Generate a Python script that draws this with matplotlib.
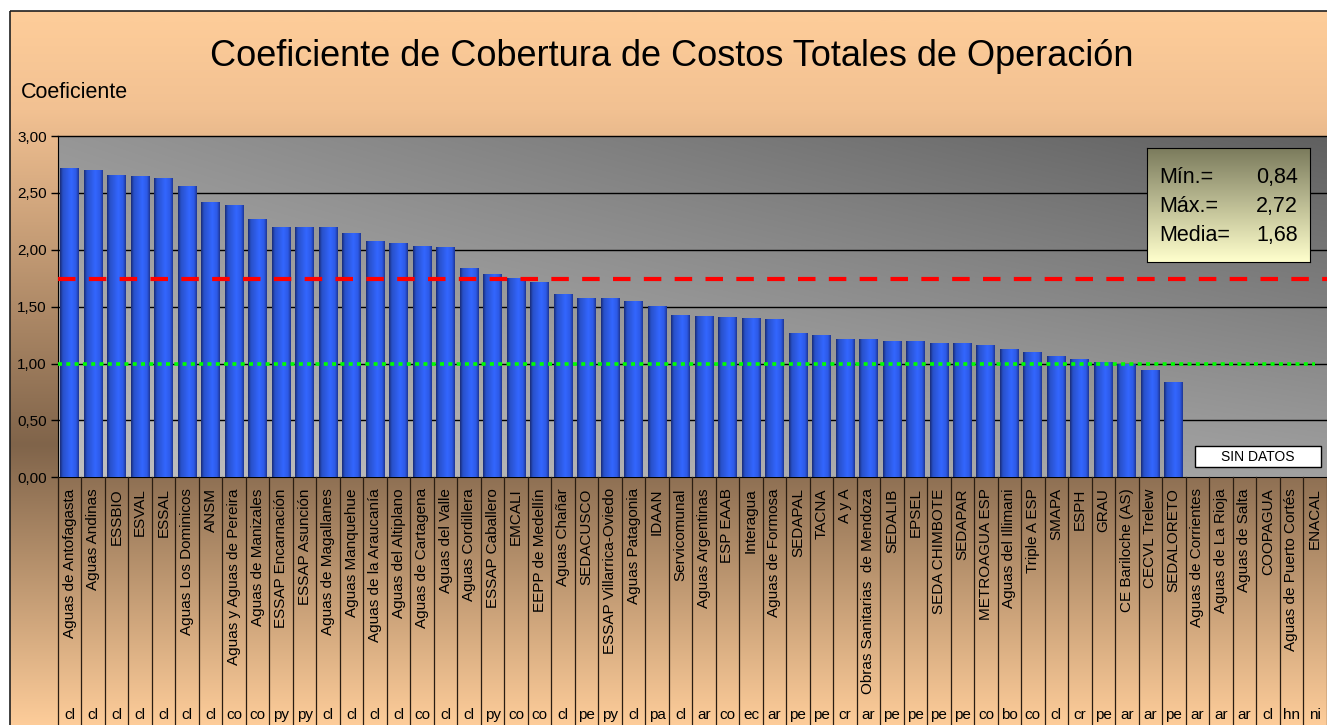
import numpy as np
import matplotlib
matplotlib.use("Agg")
import matplotlib.pyplot as plt
from matplotlib.patches import Rectangle
from matplotlib.transforms import blended_transform_factory

plt.rcParams['font.family'] = ['Liberation Sans', 'DejaVu Sans']

# Data
empresas = [
    "Aguas de Antofagasta", "Aguas Andinas", "ESSBIO", "ESVAL", "ESSAL",
    "Aguas Los Dominicos", "ANSM", "Aguas y Aguas de Pereira", "Aguas de Manizales",
    "ESSAP Encarnación", "ESSAP Asunción", "Aguas de Magallanes", "Aguas Manquehue",
    "Aguas de la Araucanía", "Aguas del Altiplano", "Aguas de Cartagena",
    "Aguas del Valle", "Aguas Cordillera", "ESSAP Caballero", "EMCALI",
    "EEPP de Medellín", "Aguas Chañar", "SEDACUSCO", "ESSAP Villarrica-Oviedo",
    "Aguas Patagonia", "IDAAN", "Servicomunal", "Aguas Argentinas", "ESP EAAB",
    "Interagua", "Aguas de Formosa", "SEDAPAL", "TACNA", "A y A",
    "Obras Sanitarias  de Mendoza", "SEDALIB", "EPSEL", "SEDA CHIMBOTE", "SEDAPAR",
    "METROAGUA ESP", "Aguas del Illimani", "Triple A ESP", "SMAPA", "ESPH", "GRAU",
    "CE Bariloche (AS)", "CECVL Trelew", "SEDALORETO", "Aguas de Corrientes",
    "Aguas de La Rioja", "Aguas de Salta", "COOPAGUA", "Aguas de Puerto Cortés",
    "ENACAL",
]
paises = [
    "cl", "cl", "cl", "cl", "cl", "cl", "cl", "co", "co", "py", "py", "cl", "cl",
    "cl", "cl", "co", "cl", "cl", "py", "co", "co", "cl", "pe", "py", "cl", "pa",
    "cl", "ar", "co", "ec", "ar", "pe", "pe", "cr", "ar", "pe", "pe", "pe", "pe",
    "co", "bo", "co", "cl", "cr", "pe", "ar", "ar", "pe", "ar", "ar", "ar", "cl",
    "hn", "ni",
]
coeficiente = [
    2.72, 2.70, 2.66, 2.65, 2.63, 2.56, 2.42, 2.39, 2.27, 2.20, 2.20, 2.20, 2.15,
    2.08, 2.06, 2.03, 2.02, 1.84, 1.79, 1.75, 1.72, 1.61, 1.58, 1.58, 1.55, 1.51,
    1.43, 1.42, 1.41, 1.40, 1.39, 1.27, 1.25, 1.22, 1.22, 1.20, 1.20, 1.18, 1.18,
    1.16, 1.13, 1.10, 1.07, 1.04, 1.01, 1.00, 0.94, 0.84,
    np.nan, np.nan, np.nan, np.nan, np.nan, np.nan,
]
linea_roja = 1.74
linea_verde = 1.00
y_ticks = [0.0, 0.5, 1.0, 1.5, 2.0, 2.5, 3.0]
y_labels = ["0,00", "0,50", "1,00", "1,50", "2,00", "2,50", "3,00"]
resumen = [("Mín.=", "0,84"), ("Máx.=", "2,72"), ("Media=", "1,68")]

W, H = 1327, 725
fig = plt.figure(figsize=(W / 100, H / 100), dpi=100)
fig.patch.set_facecolor("white")

# figure background (vertical gradient, peach -> brown -> peach)
bg = fig.add_axes([0, 0, 1, 1], zorder=-5)
bg.set_xlim(0, W)
bg.set_ylim(H, 0)
bg.axis("off")
yy = np.arange(H)
stops_y = [11, 100, 440, 725]
stops_c = np.array([[253, 204, 153], [242, 193, 146], [128, 100, 74], [254, 205, 154]]) / 255
grad = np.stack([np.interp(yy, stops_y, stops_c[:, k]) for k in range(3)], axis=-1)
bg.imshow(grad[:, None, :], extent=[10, W + 10, H, 11], aspect="auto", interpolation="bilinear")
bg.add_patch(Rectangle((10, 11), W + 10, H + 10, fill=False, edgecolor="#202020", lw=1.2))

# main axes
ax = fig.add_axes([58 / W, 1 - 477.3 / H, (1326.5 - 58) / W, (477.3 - 136) / H])
n = len(empresas)
x = np.arange(n)
ax.set_xlim(-0.5, n - 0.5)
ax.set_ylim(0, 3)

# plot area gradient (light bottom-left, dark top-right)
u = np.linspace(0, 1, 200)
w = np.linspace(1, 0, 100)[:, None]
g = (192 - 42 * w - 32 * u - 22 * u * w) / 255
ax.imshow(np.dstack([g, g, g]), extent=[-0.5, n - 0.5, 0, 3], aspect="auto",
          interpolation="bilinear", zorder=0)

for t in y_ticks[1:]:
    ax.axhline(t, color="black", lw=1.0, zorder=1, clip_on=False)

# bars with cylinder shading
prof_x = [0, 0.15, 0.6, 0.85, 1.0]
prof_c = np.array([[25, 45, 120], [40, 80, 200], [51, 102, 255], [45, 90, 230], [30, 55, 150]]) / 255
px = np.linspace(0, 1, 60)
shade = np.stack([np.interp(px, prof_x, prof_c[:, k]) for k in range(3)], axis=-1)[None, :, :]
bars = ax.bar(x, np.nan_to_num(coeficiente), width=0.8, color="#3366ff", zorder=2)
for b, v in zip(bars, coeficiente):
    if np.isnan(v):
        continue
    im = ax.imshow(shade, extent=[b.get_x(), b.get_x() + b.get_width(), 0, v],
                   aspect="auto", interpolation="bilinear", zorder=3)
    im.set_clip_path(b)

ax.plot([-0.5, n - 0.5], [linea_roja, linea_roja], color="#ff0000", lw=3.0,
        linestyle=(0, (4.2, 3.2)), zorder=4, solid_capstyle="butt")
ax.plot([-0.5, n - 1.0], [linea_verde, linea_verde], color="#00ff00", lw=2.6,
        linestyle=(0, (1.1, 1.2)), zorder=4)

ax.set_xlim(-0.5, n - 0.5)
ax.set_ylim(0, 3)

# axes styling
for s in ["top", "right"]:
    ax.spines[s].set_visible(False)
ax.spines["left"].set_color("black")
ax.spines["bottom"].set_color("black")
ax.set_yticks(y_ticks)
ax.set_yticklabels(y_labels, fontsize=11)
ax.tick_params(axis="y", direction="out", length=5, width=1, pad=3)
ax.set_xticks([])

# category separators and labels
trans = blended_transform_factory(ax.transData, ax.transAxes)
ax_h = 477.3 - 136
for k in range(n + 1):
    ax.plot([k - 0.5, k - 0.5], [0, -0.8], transform=trans, color="#2a1d12",
            lw=0.9, clip_on=False, zorder=5)
for i, (nom, pa) in enumerate(zip(empresas, paises)):
    ax.text(i, -11 / ax_h, nom, transform=trans, rotation=90, ha="center",
            va="top", fontsize=11)
    ax.text(i, -(715 - 477.3) / ax_h, pa, transform=trans, ha="center",
            va="center", fontsize=11)

# SIN DATOS box
ax.add_patch(Rectangle((47.9, 0.09), 5.35, 0.185, facecolor="white",
                       edgecolor="black", lw=1.0, zorder=6))
ax.text(47.9 + 5.35 / 2, 0.09 + 0.185 / 2, "SIN DATOS", ha="center",
        va="center", fontsize=10, zorder=7)

# summary box
lg = fig.add_axes([1147 / W, 1 - 262 / H, 163 / W, 114 / H], zorder=8)
lg.set_xlim(0, 1)
lg.set_ylim(0, 1)
lgv = np.linspace(0, 1, 100)[:, None]
top_c = np.array([122, 122, 92]) / 255
bot_c = np.array([255, 255, 204]) / 255
lgrad = (1 - lgv)[:, :, None] * top_c + lgv[:, :, None] * bot_c
lg.imshow(lgrad, extent=[0, 1, 0, 1], aspect="auto", interpolation="bilinear")
lg.set_xticks([])
lg.set_yticks([])
for s in lg.spines.values():
    s.set_color("black")
for j, (lab, val) in enumerate(resumen):
    yp = 1 - (178 + 29 * j - 148) / 114
    lg.text(12 / 163, yp, lab, ha="left", va="center", fontsize=15.5)
    lg.text(151 / 163, yp, val, ha="right", va="center", fontsize=15.5)

# titles
fig.text(671.5 / W, 1 - 57 / H, "Coeficiente de Cobertura de Costos Totales de Operación",
         ha="center", va="center", fontsize=26)
fig.text(21 / W, 1 - 93 / H, "Coeficiente", ha="left", va="center", fontsize=15.5)

fig.savefig("out.png", dpi=100)
